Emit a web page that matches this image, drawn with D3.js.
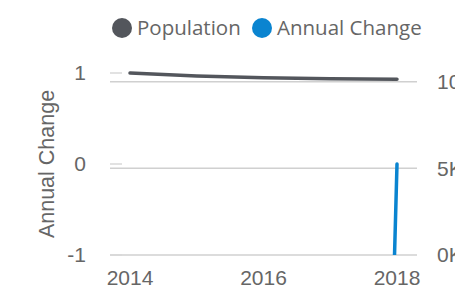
<!DOCTYPE html>
<html><head><meta charset="utf-8">
<script src="https://cdn.jsdelivr.net/npm/d3@7"></script>
<style>body{margin:0;background:#fff}svg{display:block}</style>
</head><body>
<svg id="c" width="455" height="286"></svg>
<script>
const years = [2014, 2015, 2016, 2017, 2018];
const population = [10500, 10330, 10230, 10170, 10140];
const annualChange = [-170, -100, -60, -27, 0];
const leftTicks = [-1, 0, 1];
const rightTicks = [0, 5000, 10000];
const xTicks = [2014, 2016, 2018];
const seriesNames = ["Population", "Annual Change"];
const colors = ["#53565c", "#0a84d0"];

const svg = d3.select("#c");
const pL = 110, pR = 417, pT = 73, pB = 255;
const x = d3.scaleLinear().domain([2014, 2018]).range([130, 397]);
const yL = d3.scaleLinear().domain([-1, 1]).range([pB, pT]);
const yR = d3.scaleLinear().domain([0, 10500]).range([pB, pT]);

svg.append("defs").append("clipPath").attr("id", "clip")
  .append("rect").attr("x", pL).attr("y", pT - 4).attr("width", pR - pL).attr("height", pB - pT + 4);

// right gridlines
svg.append("g").selectAll("line").data(rightTicks).join("line")
  .attr("x1", pL).attr("x2", pR)
  .attr("y1", d => yR(d)).attr("y2", d => yR(d))
  .attr("stroke", "#d0d0d0").attr("stroke-width", 1.5);

// left tick marks
svg.append("g").selectAll("line").data(leftTicks).join("line")
  .attr("x1", pL).attr("x2", 122)
  .attr("y1", d => yL(d)).attr("y2", d => yL(d))
  .attr("stroke", "#d8d8d8").attr("stroke-width", 1.5);

const tickFont = "Liberation Sans, Arial, sans-serif";
svg.append("g").selectAll("text").data(leftTicks).join("text")
  .attr("x", 86).attr("y", d => yL(d)).attr("dy", "0.35em")
  .attr("text-anchor", "end").attr("font-family", tickFont).attr("font-size", 21)
  .attr("fill", "#666").text(d => d);

svg.append("g").selectAll("text").data(rightTicks).join("text")
  .attr("x", 437).attr("y", d => yR(d)).attr("dy", "0.35em")
  .attr("text-anchor", "start").attr("font-family", tickFont).attr("font-size", 21)
  .attr("fill", "#666").text(d => d3.format("d")(d / 1000) + "K");

svg.append("g").selectAll("text").data(xTicks).join("text")
  .attr("x", d => x(d)).attr("y", 278).attr("dy", "0.35em")
  .attr("text-anchor", "middle").attr("font-family", tickFont).attr("font-size", 21)
  .attr("fill", "#666").text(d => d);

svg.append("text").attr("transform", "translate(46,164) rotate(-90)")
  .attr("dy", "0.35em").attr("text-anchor", "middle")
  .attr("font-family", tickFont).attr("font-size", 21.5).attr("fill", "#666")
  .text("Annual Change");

const g = svg.append("g").attr("clip-path", "url(#clip)");
const popLine = d3.line().x((d, i) => x(years[i])).y(d => yR(d)).curve(d3.curveMonotoneX);
g.append("path").datum(population).attr("d", popLine)
  .attr("fill", "none").attr("stroke", colors[0]).attr("stroke-width", 3.5).attr("stroke-linecap", "round");
const chLine = d3.line().x((d, i) => x(years[i])).y(d => yL(d));
g.append("path").datum(annualChange).attr("d", chLine)
  .attr("fill", "none").attr("stroke", colors[1]).attr("stroke-width", 3.5).attr("stroke-linecap", "round");

// legend
const legX = [122, 262];
const lg = svg.append("g").selectAll("g").data(seriesNames).join("g")
  .attr("transform", (d, i) => `translate(${legX[i]},28)`);
lg.append("circle").attr("r", 10).attr("fill", (d, i) => colors[i]);
lg.append("text").attr("x", 15).attr("dy", "0.35em")
  .attr("font-family", "Open Sans, sans-serif").attr("font-size", 20.5).attr("fill", "#666").text(d => d);
</script>
</body></html>
